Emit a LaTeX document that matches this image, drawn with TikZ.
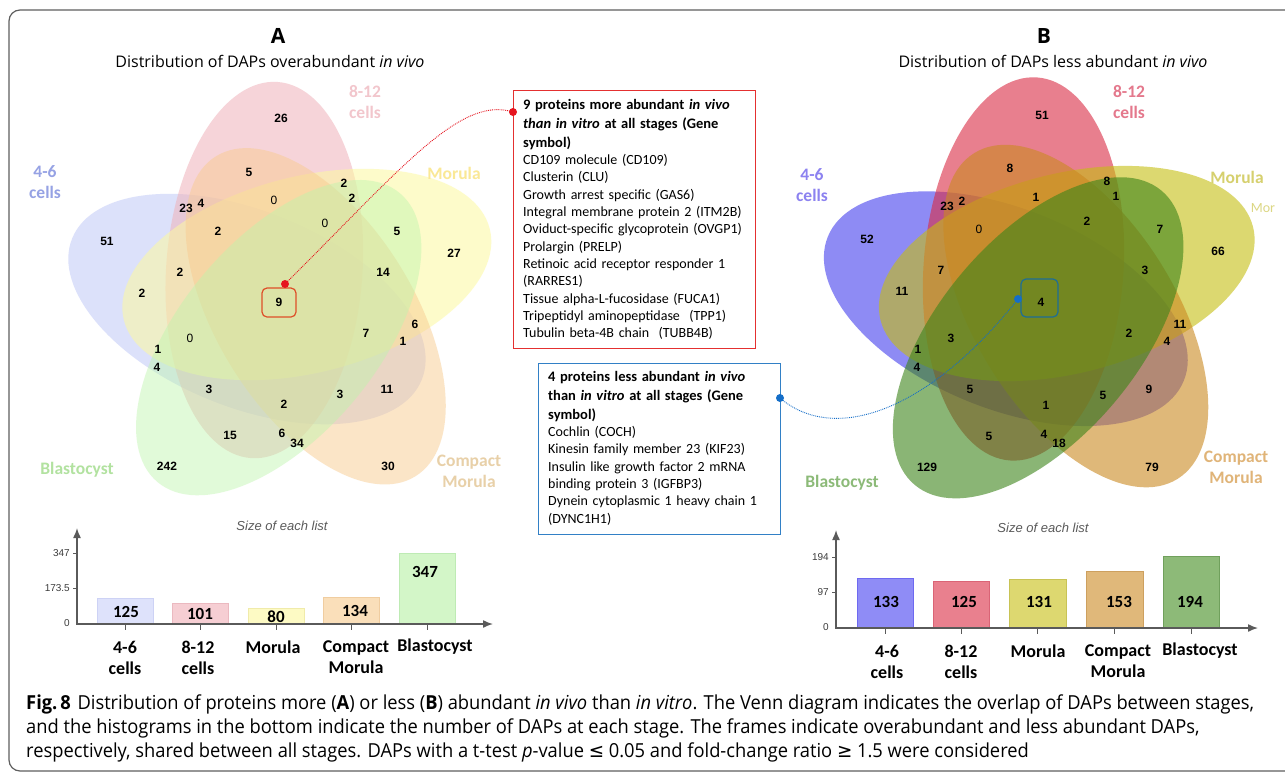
\documentclass[tikz,border=0pt]{standalone}
\usepackage{fontspec}
\usepackage{graphicx}
\setmainfont{Carlito}
\newfontfamily\vennf{Liberation Sans}
\newfontfamily\ttlf{Open Sans}
\newfontfamily\capf{Open Sans}
\newfontfamily\symf{DejaVu Sans}
\usetikzlibrary{calc,arrows.meta}
\setlength{\parindent}{0pt}
\newsavebox\capbox

\definecolor{frm}{RGB}{95,95,95}
\definecolor{aBlue}{RGB}{198,205,248}
\definecolor{aPink}{RGB}{240,178,186}
\definecolor{aYel}{RGB}{253,249,160}
\definecolor{aGrn}{RGB}{190,245,172}
\definecolor{aOrg}{RGB}{248,204,145}
\definecolor{bBlue}{RGB}{68,63,238}
\definecolor{bPink}{RGB}{217,43,67}
\definecolor{bYel}{RGB}{197,190,17}
\definecolor{bGrn}{RGB}{60,132,25}
\definecolor{bOrg}{RGB}{203,137,33}
\definecolor{lAblue}{RGB}{150,162,228}
\definecolor{lApink}{RGB}{242,198,204}
\definecolor{lAyel}{RGB}{250,232,150}
\definecolor{lAorg}{RGB}{232,208,168}
\definecolor{lAgrn}{RGB}{178,226,160}
\definecolor{lBblue}{RGB}{140,130,240}
\definecolor{lBpink}{RGB}{228,120,140}
\definecolor{lByel}{RGB}{214,208,110}
\definecolor{lBorg}{RGB}{224,180,120}
\definecolor{lBgrn}{RGB}{140,186,120}
\definecolor{redbx}{RGB}{228,48,48}
\definecolor{redsm}{RGB}{222,78,40}
\definecolor{bluebx}{RGB}{50,128,198}
\definecolor{bluesm}{RGB}{30,110,150}
\definecolor{dotred}{RGB}{230,20,30}
\definecolor{dotblue}{RGB}{20,110,200}
\definecolor{axc}{RGB}{90,90,90}
\definecolor{tickc}{RGB}{60,60,60}
\definecolor{barA1}{RGB}{222,226,251}\definecolor{barA1d}{RGB}{205,210,245}
\definecolor{barA2}{RGB}{246,206,211}\definecolor{barA2d}{RGB}{235,185,192}
\definecolor{barA3}{RGB}{253,250,196}\definecolor{barA3d}{RGB}{240,235,170}
\definecolor{barA4}{RGB}{250,223,186}\definecolor{barA4d}{RGB}{240,205,160}
\definecolor{barA5}{RGB}{211,246,200}\definecolor{barA5d}{RGB}{190,235,180}
\definecolor{barB1}{RGB}{143,140,246}\definecolor{barB1d}{RGB}{110,105,240}
\definecolor{barB2}{RGB}{233,128,142}\definecolor{barB2d}{RGB}{218,100,118}
\definecolor{barB3}{RGB}{221,216,112}\definecolor{barB3d}{RGB}{200,195,85}
\definecolor{barB4}{RGB}{224,184,122}\definecolor{barB4d}{RGB}{205,160,95}
\definecolor{barB5}{RGB}{141,186,120}\definecolor{barB5d}{RGB}{112,160,92}

\newcommand\vell[4]{\fill[#1, fill opacity=#4, shift={(#2:37)}, rotate=#3] (0,0) ellipse [x radius=192, y radius=100];}
\newcommand\capone{\textbf{Fig.\,8}\hspace{7pt}Distribution of proteins more (\textbf{A}) or less (\textbf{B}) abundant \textit{in vivo} than \textit{in vitro}. The Venn diagram indicates the overlap of DAPs between stages,}
\AtBeginDocument{%
  \sbox\capbox{\capf\fontsize{19.3}{20}\selectfont\capone}%
  \pgfmathsetmacro\capsc{1228/\wd\capbox}%
  \xdef\capsc{\capsc}%
}

\begin{document}
\begin{tikzpicture}[x=1pt,y=1pt,
  vnum/.style={font=\vennf\bfseries\fontsize{12}{12}\selectfont, inner sep=0pt},
  vnumr/.style={font=\vennf\fontsize{12}{12}\selectfont, inner sep=0pt},
  setlab/.style={font=\bfseries\fontsize{17.5}{21}\selectfont, align=center, inner sep=0pt},
  boxtxt/.style={anchor=north west, inner sep=0pt, text width=238pt, align=left, font=\fontsize{14}{17.3}\selectfont},
  bartxt/.style={font=\bfseries\fontsize{17}{17}\selectfont, inner sep=0pt},
  xlab/.style={font=\bfseries\fontsize{18}{21}\selectfont, align=center, inner sep=0pt},
  ticklab/.style={font=\vennf\fontsize{10}{10}\selectfont, text=tickc, inner sep=0pt, anchor=east},
  sizelab/.style={font=\vennf\itshape\fontsize{13}{13}\selectfont, text=axc, inner sep=0pt},
  axisln/.style={draw=axc, line width=1.5pt},
  tickln/.style={draw=axc, line width=0.8pt},
  captxt/.style={font=\capf\fontsize{19.3}{20}\selectfont, anchor=base west, inner sep=0pt},
  ttlbig/.style={font=\ttlf\bfseries\fontsize{21}{21}\selectfont, inner sep=0pt},
  ttlsub/.style={font=\ttlf\fontsize{16}{16}\selectfont, inner sep=0pt},
  conn/.style={line width=0.9pt, densely dotted},
  ]
\clip (0,0) rectangle (1285,-774);
\fill[white] (0,0) rectangle (1285,-774);
\draw[frm, line width=1.2pt, rounded corners=11pt] (9,-10) rectangle (1320,-771);

% ---------- Venn A ----------
\begin{scope}[shift={(282.5,-301.5)}, scale=0.982]
  \vell{aBlue}{192}{158}{0.6}
  \vell{aPink}{120}{86}{0.55}
  \vell{aYel}{48}{14}{0.55}
  \vell{aOrg}{-24}{-58}{0.5}
  \vell{aGrn}{264}{230}{0.45}
\end{scope}

% ---------- Venn B ----------
\begin{scope}[shift={(1042,-301)}]
  \vell{bBlue}{192}{158}{0.6}
  \vell{bPink}{120}{86}{0.6}
  \vell{bYel}{48}{14}{0.6}
  \vell{bOrg}{-24}{-58}{0.6}
  \vell{bGrn}{264}{230}{0.6}
\end{scope}

% titles
\node[ttlbig] (tA) at (278,-36) {A};
\node[ttlsub] (dA) at (270,-61) {Distribution of DAPs overabundant \textit{in vivo}};
\node[ttlbig] (tB) at (1044,-36) {B};
\node[ttlsub] (dB) at (1053,-61) {Distribution of DAPs less abundant \textit{in vivo}};

% set labels A
\node[setlab, text=lAblue] (sA1) at (45,-182.5) {4-6\\cells};
\node[setlab, text=lApink] (sA2) at (365,-102.5) {8-12\\cells};
\node[setlab, text=lAyel] (sA3) at (454,-173) {Morula};
\node[setlab, text=lAorg] (sA4) at (469,-471) {Compact\\Morula};
\node[setlab, text=lAgrn] (sA5) at (77,-470) {Blastocyst};

% set labels B
\node[setlab, text=lBblue] (sB1) at (812,-185.5) {4-6\\cells};
\node[setlab, text=lBpink] (sB2) at (1129,-102) {8-12\\cells};
\node[setlab, text=lByel] (sB3) at (1237,-177) {Morula};
\node[font=\fontsize{14}{14}\selectfont, text=lByel!85, inner sep=0pt] (sB3b) at (1263,-208) {Mor};
\node[setlab, text=lBorg] (sB4) at (1236,-467.5) {Compact\\Morula};
\node[setlab, text=lBgrn] (sB5) at (842,-483) {Blastocyst};

% numbers A
\foreach \x/\y/\lab [count=\i] in {281/118/26, 249/172/5, 344/183/2, 352/198/2, 186/208/23, 201/203/4,
  107/241/51, 218/231/2, 397/231/5, 454/253/27, 180/272/2, 383/272/14, 142/293/2, 366/333/7,
  415/324/6, 403/341/1, 158/349/1, 157/367/4, 209/389/3, 387/389/11, 340/394/3, 284/404/2,
  230/435/15, 282/433/6, 297/443/34, 167/466/242, 388/466/30}
  {\node[vnum] (na\i) at (\x,-\y) {\lab};}
\foreach \x/\y [count=\i] in {274/200, 325/223, 190/338}
  {\node[vnumr] (nz\i) at (\x,-\y) {0};}
\node[vnum, draw=redsm, line width=1.2pt, rounded corners=5pt, minimum width=34pt, minimum height=29pt] (box9) at (279,-302.5) {9};

% numbers B
\foreach \x/\y/\lab [count=\i] in {1042/115/51, 1010/168/8, 1107/181/8, 1036/197/1, 1116/196/1, 947/206/23,
  962/201/2, 1087/221/2, 1160/229/7, 867/239/52, 1218/251/66, 941/270/7, 1145/270/3, 902/291/11,
  951/338/3, 1129/333/2, 1180/324/11, 1167/341/4, 918/349/1, 917/367/4, 970/389/5, 1149/389/9,
  1103/395/5, 1046/405/1, 989/436/5, 1044/434/4, 1059/443/18, 927/467/129, 1152/467/79}
  {\node[vnum] (nb\i) at (\x,-\y) {\lab};}
\node[vnumr] (nbz) at (979,-229) {0};
\node[draw=bluesm, line width=1.2pt, rounded corners=5pt, minimum width=37pt, minimum height=38pt] (box4) at (1039.5,-298) {};
\node[vnum] (n4) at (1041,-302) {4};

% red info box
\node[draw=redbx, line width=1.2pt, minimum width=242pt, minimum height=258pt, anchor=north west, inner sep=0pt] (redbox) at (513,-90) {};
\node[boxtxt] (redtxt) at (523,-99) {{\bfseries\fontsize{14.5}{19}\selectfont 9 proteins more abundant \textit{in vivo}\\
\textit{than in vitro} at all stages (Gene\\
symbol)\par}
CD109 molecule (CD109)\\
Clusterin (CLU)\\
Growth arrest specific (GAS6)\\
Integral membrane protein 2 (ITM2B)\\
Oviduct-specific glycoprotein (OVGP1)\\
Prolargin (PRELP)\\
Retinoic acid receptor responder 1\\
(RARRES1)\\
Tissue alpha-L-fucosidase (FUCA1)\\
Tripeptidyl aminopeptidase\ \ (TPP1)\\
Tubulin beta-4B chain\ \ (TUBB4B)};

% blue info box
\node[draw=bluebx, line width=1.2pt, minimum width=242pt, minimum height=171pt, anchor=north west, inner sep=0pt] (bluebox) at (538,-363) {};
\node[boxtxt] (bluetxt) at (548,-371) {{\bfseries\fontsize{14.5}{19}\selectfont 4 proteins less abundant \textit{in vivo}\\
than \textit{in vitro} at all stages (Gene\\
symbol)\par}
Cochlin (COCH)\\
Kinesin family member 23 (KIF23)\\
Insulin like growth factor 2 mRNA\\
binding protein 3 (IGFBP3)\\
Dynein cytoplasmic 1 heavy chain 1\\
(DYNC1H1)};

% connectors
\coordinate (r1) at (285,-284);
\coordinate (r2) at (513,-112);
\draw[conn, dotred] (r1) .. controls (400,-170) and (460,-95) .. (r2);
\fill[dotred] (r1) circle (4);
\fill[dotred] (r2) circle (4);
\coordinate (b1) at (780,-398);
\coordinate (b2) at (1018,-299);
\draw[conn, dotblue] (b1) .. controls (835,-445) and (930,-410) .. (b2);
\fill[dotblue] (b1) circle (4);
\fill[dotblue] (b2) circle (4);

% ---------- bar chart A ----------
\node[sizelab] (szA) at (282,-526) {Size of each list};
\filldraw[fill=barA1, draw=barA1d, line width=0.8pt] (97,-624) rectangle (153,-598);
\filldraw[fill=barA2, draw=barA2d, line width=0.8pt] (172,-624) rectangle (228,-603);
\filldraw[fill=barA3, draw=barA3d, line width=0.8pt] (248,-624) rectangle (304,-608);
\filldraw[fill=barA4, draw=barA4d, line width=0.8pt] (323,-624) rectangle (379,-597);
\filldraw[fill=barA5, draw=barA5d, line width=0.8pt] (399,-624) rectangle (455,-553);
\foreach \yy in {553,588.5}{\draw[tickln] (73,-\yy) -- (77,-\yy);}
\foreach \xx in {125,200,276,351,427}{\draw[tickln] (\xx,-624) -- (\xx,-630);}
\draw[axisln, {Latex[length=10pt,width=8pt]}-{Latex[length=10pt,width=8pt]}] (77,-528) -- (77,-624) -- (493,-624);
\node[ticklab] (tkA1) at (70,-553) {347};
\node[ticklab] (tkA2) at (70,-588.5) {173.5};
\node[ticklab] (tkA3) at (70,-623) {0};
\node[bartxt] (vA1) at (126,-612) {125};
\node[bartxt] (vA2) at (200,-614) {101};
\node[bartxt] (vA3) at (276,-617) {80};
\node[bartxt] (vA4) at (355,-611) {134};
\node[bartxt] (vA5) at (425,-572) {347};
\node[xlab] (xA1) at (125,-657.5) {4-6\\cells};
\node[xlab] (xA2) at (198,-657.5) {8-12\\cells};
\node[xlab] (xA3) at (273,-647) {Morula};
\node[xlab] (xA4) at (356,-657.5) {Compact\\Morula};
\node[xlab] (xA5) at (435,-647) {Blastocyst};

% ---------- bar chart B ----------
\node[sizelab] (szB) at (1043,-528) {Size of each list};
\filldraw[fill=barB1, draw=barB1d, line width=0.8pt] (857,-628) rectangle (913,-578);
\filldraw[fill=barB2, draw=barB2d, line width=0.8pt] (933,-628) rectangle (989,-581);
\filldraw[fill=barB3, draw=barB3d, line width=0.8pt] (1009,-628) rectangle (1066,-579);
\filldraw[fill=barB4, draw=barB4d, line width=0.8pt] (1086,-628) rectangle (1143,-571);
\filldraw[fill=barB5, draw=barB5d, line width=0.8pt] (1163,-628) rectangle (1219,-556);
\foreach \yy in {557,592.5}{\draw[tickln] (832,-\yy) -- (836,-\yy);}
\foreach \xx in {885,961,1037.5,1114.5,1191}{\draw[tickln] (\xx,-628) -- (\xx,-634);}
\draw[axisln, {Latex[length=10pt,width=8pt]}-{Latex[length=10pt,width=8pt]}] (836,-530) -- (836,-628) -- (1258,-628);
\node[ticklab] (tkB1) at (829,-557) {194};
\node[ticklab] (tkB2) at (829,-592) {97};
\node[ticklab] (tkB3) at (829,-627) {0};
\node[bartxt] (vB1) at (886,-602) {133};
\node[bartxt] (vB2) at (964,-602) {125};
\node[bartxt] (vB3) at (1039,-602) {131};
\node[bartxt] (vB4) at (1119,-602) {153};
\node[bartxt] (vB5) at (1190,-602) {194};
\node[xlab] (xB1) at (887,-661.5) {4-6\\cells};
\node[xlab] (xB2) at (961,-661.5) {8-12\\cells};
\node[xlab] (xB3) at (1038,-651) {Morula};
\node[xlab] (xB4) at (1118,-661.5) {Compact\\Morula};
\node[xlab] (xB5) at (1200,-651) {Blastocyst};

% ---------- caption ----------
\node[captxt] (cap1) at (26,-709) {\scalebox{\capsc}[1]{\capone}};
\node[captxt] (cap2) at (26,-733) {\scalebox{\capsc}[1]{and the histograms in the bottom indicate the number of DAPs at each stage. The frames indicate overabundant and less abundant DAPs,}};
\node[captxt] (cap3) at (26,-757) {\scalebox{\capsc}[1]{respectively, shared between all stages. DAPs with a t-test \textit{p}-value {\symf ≤} 0.05 and fold-change ratio {\symf ≥} 1.5 were considered}};
\end{tikzpicture}
\end{document}
